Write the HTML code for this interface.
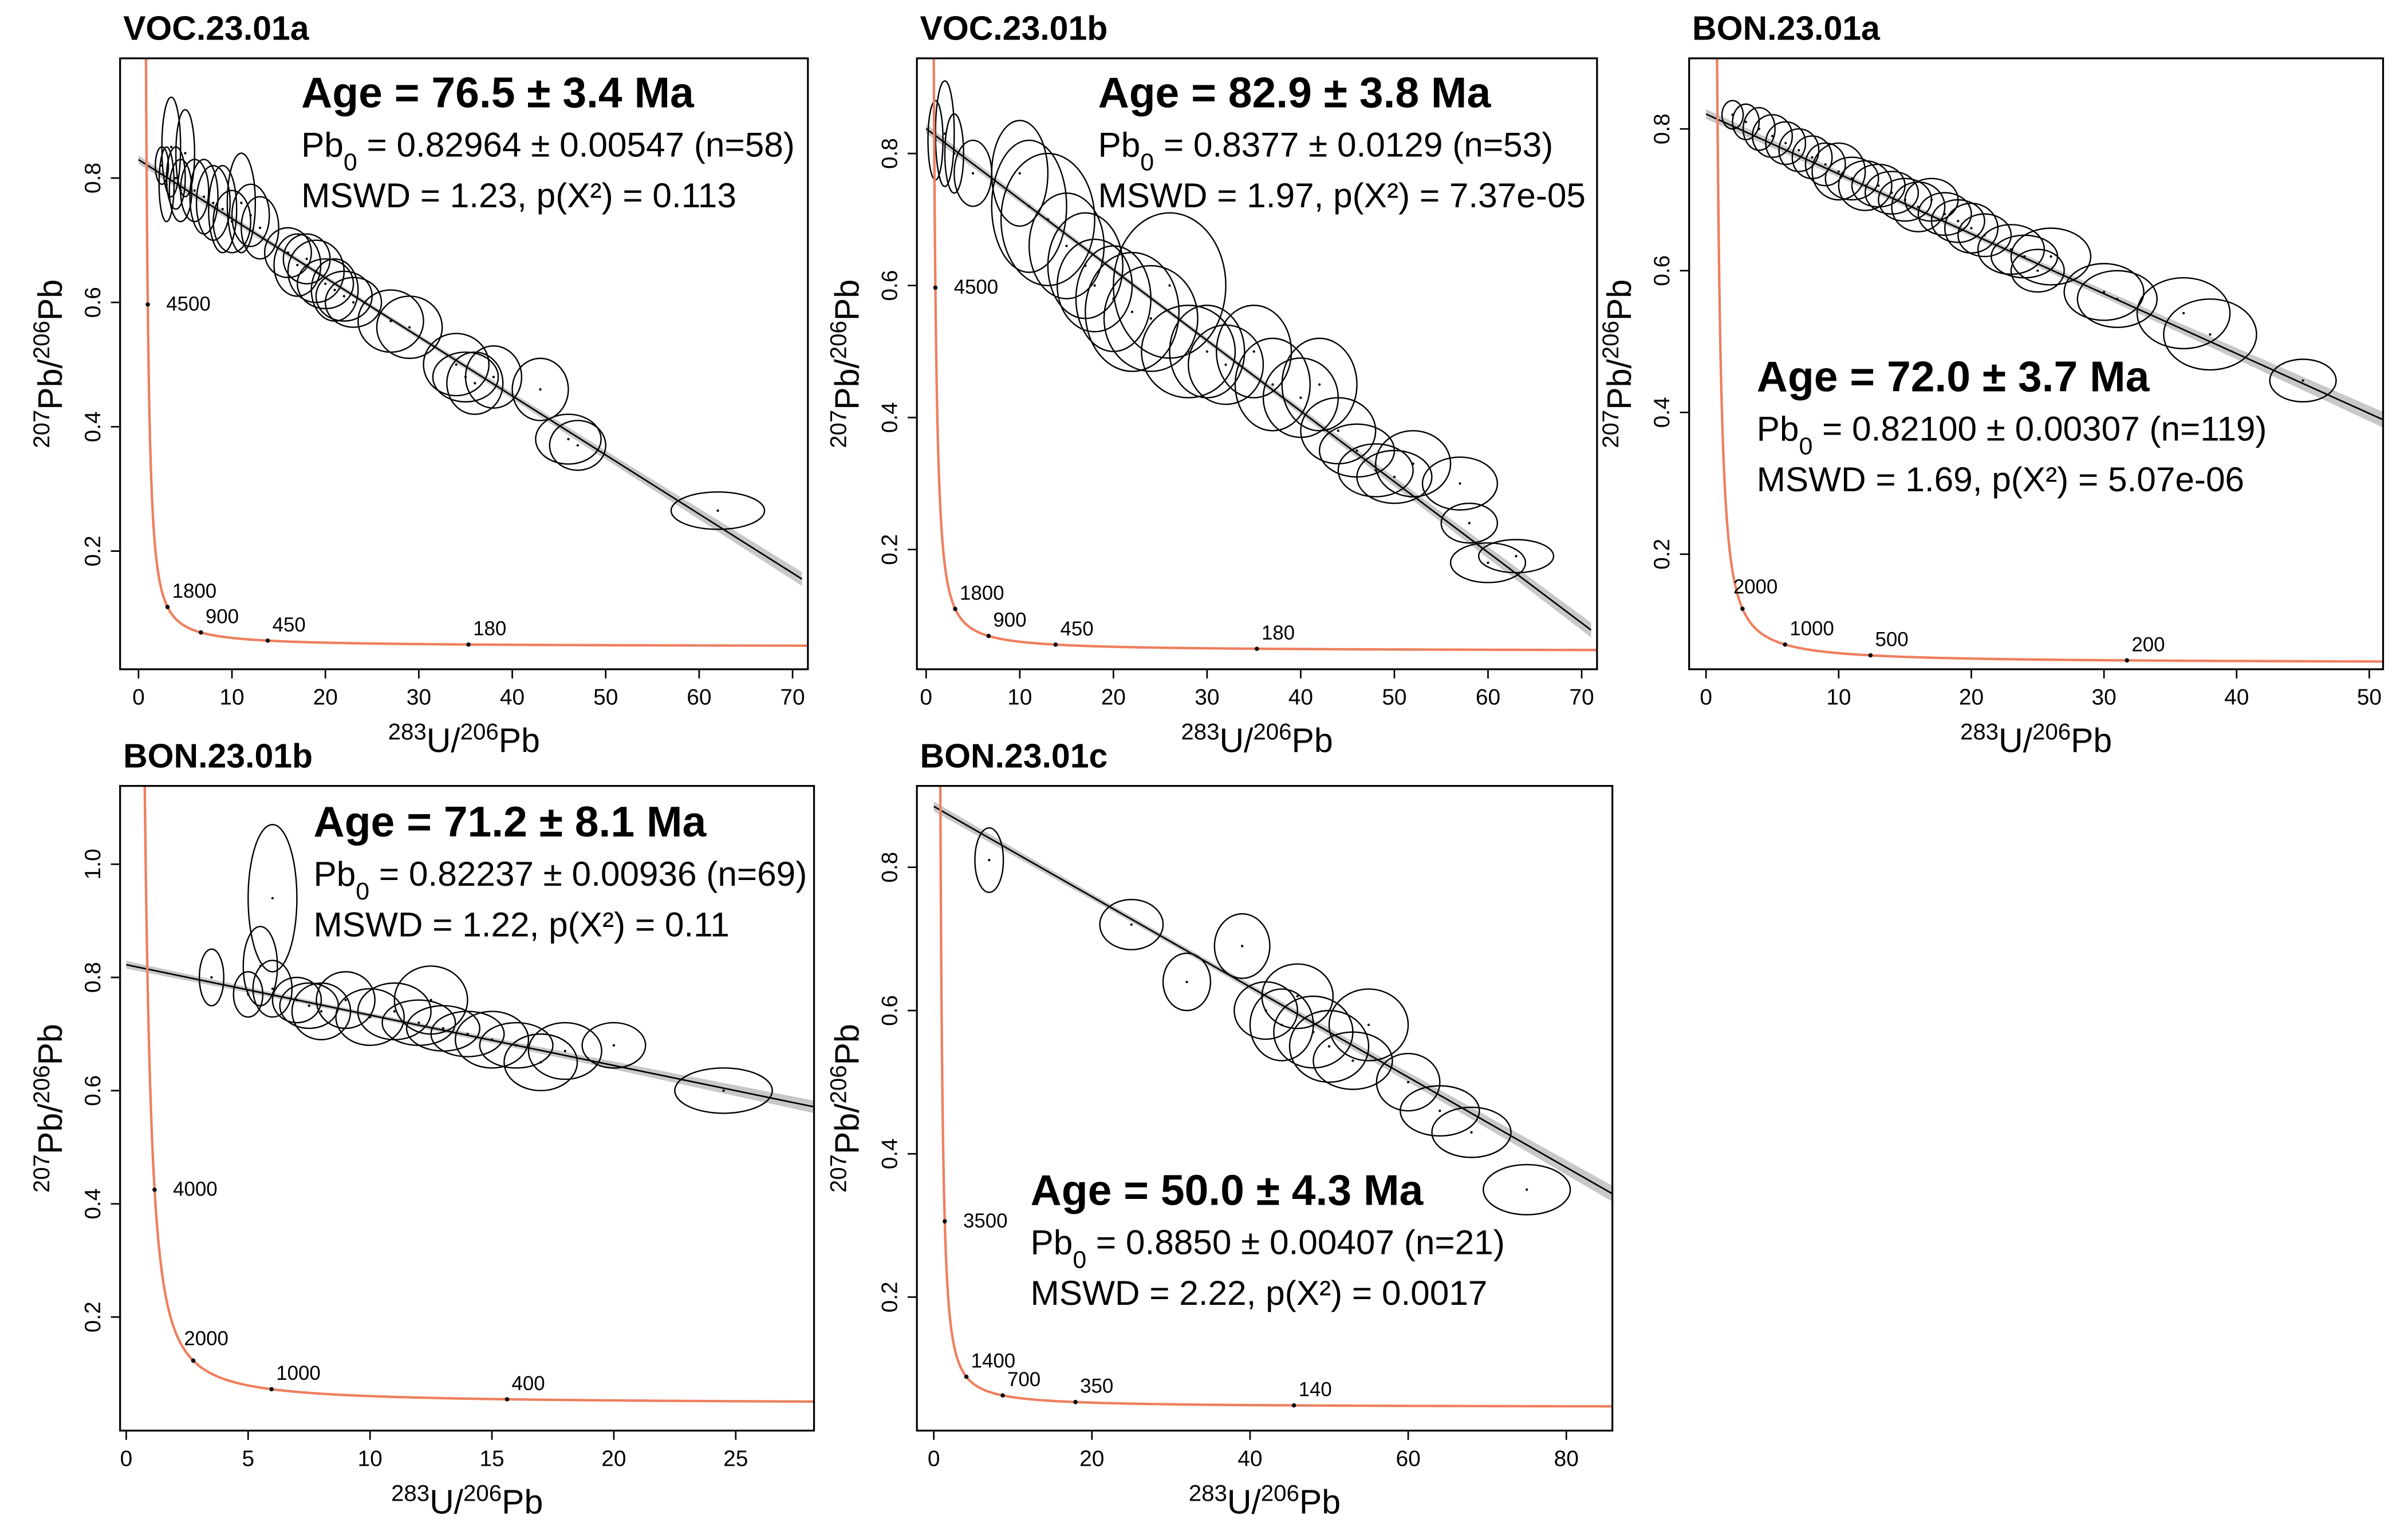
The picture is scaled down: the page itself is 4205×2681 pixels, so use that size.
<!DOCTYPE html>
<html><head><meta charset="utf-8">
<style>
html,body{margin:0;padding:0;background:#fff;}
svg{display:block;font-family:"Liberation Sans",Arial,sans-serif;}
</style></head>
<body>
<svg id="fig" width="4205" height="2681" viewBox="0 0 1568 1000" xmlns="http://www.w3.org/2000/svg">
<rect x="0" y="0" width="1568" height="1000" fill="#fff"/>
</svg>
<script>
// ---------- DATA ----------
const p1X=[2.5,3,3.5,4,4.5,5,6,7,8,9,10,11,12,13,16,17,18,19,20,21,22,23,27,29,34,35,36,38,43,46,47,62];
const p1Y=[0.82,0.79,0.85,0.80,0.78,0.84,0.78,0.77,0.76,0.75,0.73,0.76,0.74,0.72,0.68,0.66,0.67,0.65,0.63,0.62,0.61,0.60,0.57,0.56,0.50,0.48,0.47,0.48,0.46,0.38,0.37,0.265];
const p1RX=[0.7,0.8,1,1,1.2,1,1.5,1.5,1.8,1.5,2,1.5,2,2,2.5,2.5,2.5,3,3,2.5,3,3,3.5,3.5,3.5,3.5,3,3,3,3.5,3,5];
const p1RY=[0.03,0.06,0.08,0.05,0.05,0.07,0.05,0.06,0.06,0.07,0.05,0.08,0.05,0.05,0.04,0.05,0.04,0.05,0.04,0.05,0.04,0.04,0.05,0.05,0.05,0.04,0.05,0.05,0.05,0.04,0.04,0.03];
const p2X=[1,2,3,5,10,11,13,15,17,18,20,22,24,26,28,30,32,35,37,40,42,44,46,48,50,52,57,58,60,63];
const p2Y=[0.82,0.83,0.80,0.77,0.77,0.72,0.70,0.66,0.63,0.60,0.58,0.56,0.55,0.60,0.50,0.50,0.48,0.50,0.45,0.43,0.45,0.38,0.35,0.32,0.31,0.33,0.30,0.24,0.18,0.19];
const p2RX=[0.8,1,1,2,3,4,5,4,4,4,4,5,5,6,5,4,4,4,4,4,4,4,4,4,4,4,4,3,4,4];
const p2RY=[0.06,0.08,0.06,0.05,0.08,0.1,0.1,0.08,0.08,0.07,0.08,0.09,0.08,0.11,0.07,0.07,0.06,0.07,0.07,0.06,0.07,0.05,0.04,0.04,0.04,0.05,0.04,0.03,0.03,0.025];
const p3X=[2,3,4,5,6,7,8,9,10,11,12,13,14,15,16,17,18,19,20,21,23,24,25,26,30,31,36,38,45];
const p3Y=[0.82,0.81,0.80,0.79,0.78,0.77,0.76,0.75,0.74,0.73,0.72,0.72,0.71,0.70,0.69,0.70,0.68,0.67,0.66,0.65,0.63,0.62,0.60,0.62,0.57,0.56,0.54,0.51,0.445];
const p3RX=[0.8,1,1.2,1.5,1.5,1.5,1.5,1.5,2,2,2,2,2,2,2,2,2,2,2,2,2.5,2.5,2,3,3,3,3.5,3.5,2.5];
const p3RY=[0.02,0.025,0.03,0.03,0.03,0.03,0.03,0.03,0.04,0.03,0.035,0.03,0.03,0.03,0.035,0.03,0.03,0.03,0.035,0.03,0.035,0.03,0.03,0.04,0.04,0.04,0.05,0.05,0.03];
const p4X=[3.5,5,5.5,6,6,7,7.5,8,9,10,11,12,12.5,13,14,15,16,17,18,20,24.5];
const p4Y=[0.80,0.77,0.82,0.78,0.94,0.76,0.75,0.74,0.76,0.73,0.74,0.72,0.76,0.71,0.70,0.69,0.68,0.65,0.67,0.68,0.60];
const p4RX=[0.5,0.6,0.7,0.8,1,1,1.2,1.2,1.2,1.4,1.5,1.5,1.5,1.5,1.5,1.5,1.5,1.5,1.5,1.3,2];
const p4RY=[0.05,0.04,0.07,0.05,0.13,0.04,0.04,0.05,0.05,0.05,0.05,0.04,0.06,0.04,0.04,0.05,0.04,0.05,0.05,0.04,0.04];
const p5X=[7,25,32,39,42,44,46,48,50,53,55,60,64,68,75];
const p5Y=[0.81,0.72,0.64,0.69,0.60,0.58,0.62,0.57,0.55,0.53,0.58,0.50,0.46,0.43,0.35];
const p5RX=[1.8,4,3,3.5,4,4,4.5,5,5,5,5,4,5,5,5.5];
const p5RY=[0.045,0.035,0.04,0.045,0.04,0.05,0.045,0.05,0.05,0.04,0.05,0.04,0.035,0.035,0.035];
const xTicks1=[0,10,20,30,40,50,60,70], yTicks1=[0.2,0.4,0.6,0.8];
const xTicks3=[0,10,20,30,40,50];
const xTicks4=[0,5,10,15,20,25], yTicks4=[0.2,0.4,0.6,0.8,1.0];
const xTicks5=[0,20,40,60,80];
const ages1=[4500,1800,900,450,180], ages3=[2000,1000,500,200], ages4=[4000,2000,1000,400], ages5=[3500,1400,700,350,140];
const intercepts=[0.8296,0.8377,0.821,0.8224,0.885];
const slopes=[-0.0095,-0.0107,-0.00845,-0.0089,-0.0063];

// ---------- LAYOUT ----------
const panels=[
 {name:'voc-23-01a',title:'VOC.23.01a',box:[78,38,526,436],x0:90,xs:6.086,y0v:0.8,y0p:116,ys:405,xmax:71,xt:xTicks1,yt:yTicks1,X:p1X,Y:p1Y,RX:p1RX,RY:p1RY,ages:ages1,txt:[196,70],age:'Age = 76.5 ± 3.4 Ma',pb:'0.82964 ± 0.00547 (n=58)',ms:'MSWD = 1.23, p(X²) = 0.113'},
 {name:'voc-23-01b',title:'VOC.23.01b',box:[597,38,1040,436],x0:603,xs:6.1,y0v:0.8,y0p:100,ys:430,xmax:71,xt:xTicks1,yt:yTicks1,X:p2X,Y:p2Y,RX:p2RX,RY:p2RY,ages:ages1,txt:[715,70],age:'Age = 82.9 ± 3.8 Ma',pb:'0.8377 ± 0.0129 (n=53)',ms:'MSWD = 1.97, p(X²) = 7.37e-05'},
 {name:'bon-23-01a',title:'BON.23.01a',box:[1100,38,1552,436],x0:1111,xs:8.64,y0v:0.8,y0p:84,ys:461.7,xmax:51,xt:xTicks3,yt:yTicks1,X:p3X,Y:p3Y,RX:p3RX,RY:p3RY,ages:ages3,txt:[1144,255],age:'Age = 72.0 ± 3.7 Ma',pb:'0.82100 ± 0.00307 (n=119)',ms:'MSWD = 1.69, p(X²) = 5.07e-06'},
 {name:'bon-23-01b',title:'BON.23.01b',box:[78,512,530,932],x0:82,xs:15.88,y0v:1.0,y0p:563,ys:368.75,xmax:28.2,xt:xTicks4,yt:yTicks4,X:p4X,Y:p4Y,RX:p4RX,RY:p4RY,ages:ages4,txt:[204,545],age:'Age = 71.2 ± 8.1 Ma',pb:'0.82237 ± 0.00936 (n=69)',ms:'MSWD = 1.22, p(X²) = 0.11'},
 {name:'bon-23-01c',title:'BON.23.01c',box:[597,512,1050,932],x0:608,xs:5.15,y0v:0.8,y0p:565,ys:466.7,xmax:86,xt:xTicks5,yt:yTicks1,X:p5X,Y:p5Y,RX:p5RX,RY:p5RY,ages:ages5,txt:[671,785],age:'Age = 50.0 ± 4.3 Ma',pb:'0.8850 ± 0.00407 (n=21)',ms:'MSWD = 2.22, p(X²) = 0.0017'}
];
const NS='http://www.w3.org/2000/svg';
const fig=document.getElementById('fig');
function mk(tag,attrs,parent){const e=document.createElementNS(NS,tag);for(const k in attrs)e.setAttribute(k,attrs[k]);parent.appendChild(e);return e;}
const L238=1.55125e-10,L235=9.8485e-10;
function conc(tMa){const t=tMa*1e6;const a=Math.exp(L238*t)-1;const b=Math.exp(L235*t)-1;return [1/a,b/(137.88*a)];}

panels.forEach((P,i)=>{
  const g=mk('g',{},fig);
  
  
  const [bx0,by0,bx1,by1]=P.box;
  const sx=v=>P.x0+v*P.xs, sy=v=>P.y0p-(v-P.y0v)*P.ys;
  const cid='clip'+i;
  const cp=mk('clipPath',{id:cid},g); mk('rect',{x:bx0,y:by0,width:bx1-bx0,height:by1-by0},cp);
  const plot=mk('g',{'clip-path':'url(#'+cid+')'},g);
  
  
  const a=intercepts[i], s=slopes[i], xm=P.xmax*0.35;
  let up=[],dn=[];
  for(let k=0;k<=40;k++){const x=P.xmax*k/40;const w=0.004*Math.sqrt(1+Math.pow((x-xm)/(P.xmax*0.25),2));const y=a+s*x;up.push(sx(x)+','+sy(y+w));dn.unshift(sx(x)+','+sy(y-w));}
  const band=mk('polygon',{points:up.concat(dn).join(' '),fill:'#c8c8c8',stroke:'none'},plot);
  
  
  P.X.forEach((x,j)=>{
    const el=mk('ellipse',{cx:sx(x),cy:sy(P.Y[j]),rx:P.RX[j]*P.xs,ry:P.RY[j]*P.ys,fill:'none',stroke:'#000','stroke-width':0.9},plot);
    
    
    const d=mk('circle',{cx:sx(x),cy:sy(P.Y[j]),r:0.8,fill:'#000'},plot);
    
    
  });
  const ln=mk('line',{x1:sx(0),y1:sy(a),x2:sx(P.xmax),y2:sy(a+s*P.xmax),stroke:'#000','stroke-width':1},plot);
  
  
  let pts=[];
  for(let k=0;k<=400;k++){const t=20+Math.pow(k/400,2)*5500;const c=conc(t);pts.push(sx(c[0])+','+sy(c[1]));}
  const cc=mk('polyline',{points:pts.join(' '),fill:'none',stroke:'#ee7f5e','stroke-width':1.6},plot);
  
  
  P.ages.forEach(t=>{const c=conc(t);
    const m=mk('circle',{cx:sx(c[0]),cy:sy(c[1]),r:1.4,fill:'#000'},plot);
    
    
    const lb=mk('text',{x:sx(c[0])+(c[0]<3?-6:3),y:sy(c[1])-(c[0]<3&&c[1]<0.4?10:6),'font-size':13,fill:'#000'},plot);
    if(c[0]<2&&c[1]>0.25){lb.setAttribute('x',sx(c[0])+12);lb.setAttribute('y',sy(c[1])+4);}
    lb.textContent=t;
    
    
  });
  const bx=mk('rect',{x:bx0,y:by0,width:bx1-bx0,height:by1-by0,fill:'none',stroke:'#000','stroke-width':1.2},g);
  
  
  P.xt.forEach(v=>{const x=sx(v);
    mk('line',{x1:x,y1:by1,x2:x,y2:by1+6,stroke:'#000','stroke-width':1},g);
    const t=mk('text',{x:x,y:by1+23,'font-size':14.5,'text-anchor':'middle'},g);t.textContent=v;
    
    
  });
  P.yt.forEach(v=>{const y=sy(v);
    mk('line',{x1:bx0,y1:y,x2:bx0-6,y2:y,stroke:'#000','stroke-width':1},g);
    const t=mk('text',{x:bx0-13,y:y,'font-size':14.5,'text-anchor':'middle',transform:'rotate(-90 '+(bx0-13)+' '+y+')'},g);t.textContent=v.toFixed(1);
    
    
  });
  const xt=mk('text',{x:(bx0+bx1)/2,y:by1+54,'font-size':22,'text-anchor':'middle'},g);
  xt.innerHTML='<tspan baseline-shift="super" font-size="15">283</tspan>U/<tspan baseline-shift="super" font-size="15">206</tspan>Pb';
  
  
  const yx=bx0-38, yy=(by0+by1)/2;
  const yt=mk('text',{x:yx,y:yy,'font-size':22,'text-anchor':'middle',transform:'rotate(-90 '+yx+' '+yy+')'},g);
  yt.innerHTML='<tspan baseline-shift="super" font-size="15">207</tspan>Pb/<tspan baseline-shift="super" font-size="15">206</tspan>Pb';
  
  
  const tt=mk('text',{x:bx0+2,y:by0-12,'font-size':22,'font-weight':'bold'},g);tt.textContent=P.title;
  
  
  const [tx,ty]=P.txt;
  const a1=mk('text',{x:tx,y:ty,'font-size':28,'font-weight':'bold'},g);a1.textContent=P.age;
  
  
  const a2=mk('text',{x:tx,y:ty+32,'font-size':22.5},g);
  a2.innerHTML='Pb<tspan baseline-shift="sub" font-size="16">0</tspan> = '+P.pb;
  
  
  const a3=mk('text',{x:tx,y:ty+65,'font-size':22.5},g);a3.textContent=P.ms;
  
  
});
</script>
</body></html>
